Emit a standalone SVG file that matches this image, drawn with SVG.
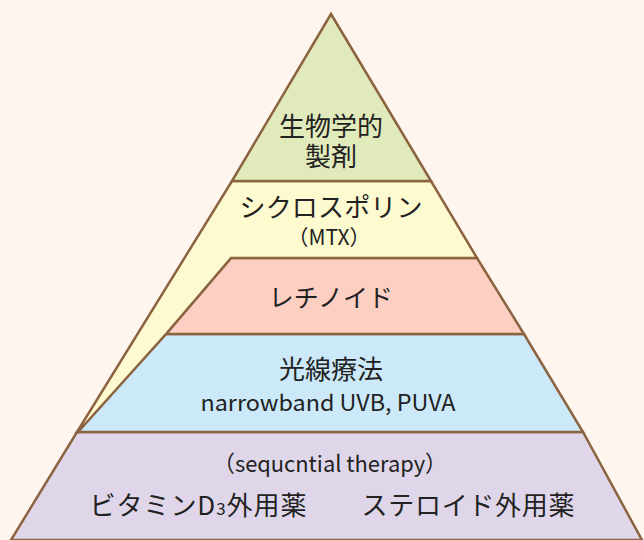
<svg xmlns="http://www.w3.org/2000/svg" width="644" height="540" viewBox="0 0 644 540">
<style>
.band{stroke:#8b6341;stroke-width:2.5;stroke-linejoin:miter}
text{font-family:"Noto Sans CJK JP","Noto Sans",sans-serif;fill:#222;text-anchor:middle}
.big{font-size:26px}
.mid{font-size:21px}
.lat{font-size:22.5px}
</style>
<rect width="644" height="540" fill="#fef6ee"/>
<g id="layer-purple">
<polygon class="band" fill="#dfd7e9" points="77,432 583,432 642,540 11,540"/>
<text class="lat" x="330" y="472" textLength="234" lengthAdjust="spacingAndGlyphs">（sequcntial therapy）</text>
<text class="big" x="198" y="515" textLength="217" lengthAdjust="spacing">ビタミンD<tspan font-size="17">3</tspan>外用薬</text>
<text class="big" x="468" y="515" textLength="213" lengthAdjust="spacing">ステロイド外用薬</text>
</g>
<g id="layer-blue">
<polygon class="band" fill="#cbe9f8" points="166,334 524,334 583,432 77,432"/>
<text class="big" x="331" y="379">光線療法</text>
<text class="lat" x="328" y="411" textLength="255" lengthAdjust="spacingAndGlyphs">narrowband UVB, PUVA</text>
</g>
<g id="layer-pink">
<polygon class="band" fill="#fbcfc2" points="231,258 477,258 524,334 166,334"/>
<text class="big" x="331" y="307" style="font-size:25px">レチノイド</text>
</g>
<g id="layer-yellow">
<polygon class="band" fill="#fefad0" points="232,181 431,181 477,258 231,258 166,334 78,432 77,432"/>
<text class="big" x="331" y="217" textLength="183" lengthAdjust="spacing">シクロスポリン</text>
<text class="mid" x="329" y="245">（MTX）</text>
</g>
<g id="layer-green">
<polygon class="band" fill="#e1eabb" points="331,14 431,181 232,181"/>
<text class="big" x="331" y="136">生物学的</text>
<text class="big" x="331" y="166">製剤</text>
</g>
</svg>
